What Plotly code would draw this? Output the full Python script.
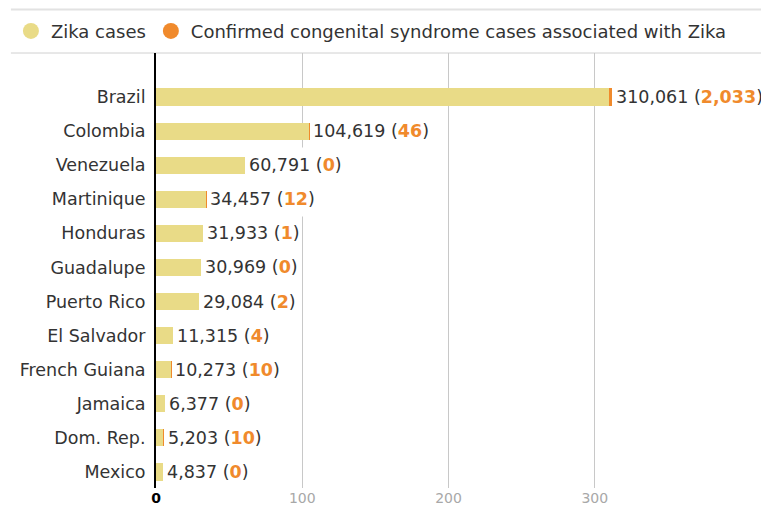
import plotly.graph_objects as go

countries = ["Brazil", "Colombia", "Venezuela", "Martinique", "Honduras", "Guadalupe",
             "Puerto Rico", "El Salvador", "French Guiana", "Jamaica", "Dom. Rep.", "Mexico"]
zika_cases = [310061, 104619, 60791, 34457, 31933, 30969, 29084, 11315, 10273, 6377, 5203, 4837]
congenital_cases = [2033, 46, 0, 12, 1, 0, 2, 4, 10, 0, 10, 0]
tick_values = [0, 100, 200, 300]
tick_labels = ["0", "100", "200", "300"]

YELLOW = "#e9db87"
ORANGE = "#f08a2c"
TEXT = "#333333"
FONT = "DejaVu Sans"

zika_k = [v / 1000 for v in zika_cases]
cong_k = [v / 1000 for v in congenital_cases]

fig = go.Figure()
fig.add_trace(go.Bar(y=countries, x=zika_k, orientation="h", width=0.5,
                     marker=dict(color=YELLOW, line=dict(width=0)), showlegend=False,
                     hoverinfo="skip"))
fig.add_trace(go.Bar(y=countries, x=cong_k, orientation="h", width=0.5,
                     marker=dict(color=ORANGE, line=dict(width=0)), showlegend=False,
                     hoverinfo="skip"))
# legend entries
fig.add_trace(go.Scatter(x=[None], y=[None], mode="markers", name="Zika cases",
                         marker=dict(color=YELLOW, size=17, symbol="circle")))
fig.add_trace(go.Scatter(x=[None], y=[None], mode="markers",
                         name="Confirmed congenital syndrome cases associated with Zika",
                         marker=dict(color=ORANGE, size=17, symbol="circle")))

annotations = []
for c, z, k, zk, ck in zip(countries, zika_cases, congenital_cases, zika_k, cong_k):
    txt = (f"{z:,} (<span style='color:{ORANGE}'><b>{k:,}</b></span>)")
    annotations.append(dict(x=zk + ck, y=c, xref="x", yref="y", text=txt,
                            showarrow=False, xanchor="left", xshift=3,
                            font=dict(family=FONT, size=17.5, color=TEXT),
                            bgcolor="white", height=34, borderpad=0))

ticktext = []
for v, t in zip(tick_values, tick_labels):
    if v == 0:
        ticktext.append("<b>" + t + "</b>")
    else:
        ticktext.append(f"<span style='color:#a8a8a8'>{t}</span>")

fig.update_layout(
    width=761, height=501,
    margin=dict(l=148, r=28, t=45, b=21, autoexpand=False),
    paper_bgcolor="white", plot_bgcolor="white",
    barmode="stack", bargap=0.5,
    font=dict(family=FONT, size=18, color=TEXT),
    annotations=annotations,
    showlegend=True,
    legend=dict(orientation="h", x=-0.248, xanchor="left", y=1.05, yanchor="middle",
                font=dict(family=FONT, size=18, color=TEXT), itemwidth=30,
                bgcolor="rgba(0,0,0,0)", traceorder="normal"),
    shapes=[
        dict(type="line", xref="paper", yref="paper", x0=-0.248, x1=1.06, y0=1, y1=1,
             line=dict(color="#d0d0d0", width=1), layer="below"),
        dict(type="line", xref="paper", yref="paper", x0=-0.248, x1=1.06, y0=1.1, y1=1.1,
             line=dict(color="#e2e2e2", width=2)),
    ],
)
fig.update_xaxes(range=[0, 400], tickvals=tick_values, ticktext=ticktext,
                 showgrid=True, gridcolor="#c8c8c8", gridwidth=1, zeroline=False,
                 tickfont=dict(family=FONT, size=14, color="black"),
                 ticks="", fixedrange=True, automargin=False)
fig.update_yaxes(type="category", categoryorder="array", categoryarray=countries,
                 range=[11.47, -1.29], showgrid=False, zeroline=False,
                 showline=True, linecolor="black", linewidth=2,
                 tickfont=dict(family=FONT, size=17.5, color=TEXT),
                 ticks="outside", ticklen=5, tickcolor="white", fixedrange=True,
                 automargin=False)

fig.write_html("out.html")
